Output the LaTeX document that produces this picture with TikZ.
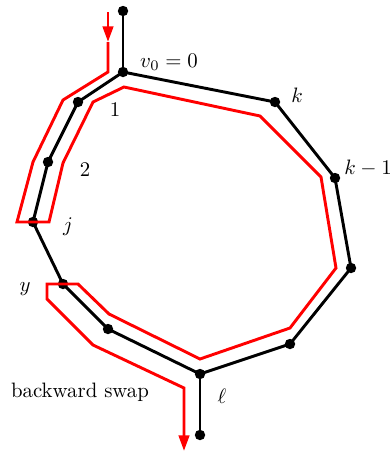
\documentclass[tikz,border=0pt]{standalone}
\usetikzlibrary{arrows.meta}
\begin{document}
\begin{tikzpicture}[x=0.48pt,y=-0.48pt,
  blk/.style={line width=1.4pt,black,line join=miter},
  redp/.style={line width=1.4pt,red,line join=miter},
  vdot/.style={circle,fill=black,inner sep=0pt,minimum size=5pt},
  lbl/.style={inner sep=0pt},
  tipstyle/.style={-{Triangle[length=7.5pt,width=5pt]}}]
\useasboundingbox (0,0) rectangle (390,451);
% vertices
\node[vdot] (top) at (123,11) {};
\node[vdot] (v0) at (123,72) {};
\node[vdot] (v1) at (78,102) {};
\node[vdot] (v2) at (48,162) {};
\node[vdot] (vj) at (33,222) {};
\node[vdot] (vy) at (63,284) {};
\node[vdot] (va) at (108,329) {};
\node[vdot] (vl) at (200,374) {};
\node[vdot] (vb) at (290,344) {};
\node[vdot] (vc) at (351,268) {};
\node[vdot] (vk1) at (335,178) {};
\node[vdot] (vk) at (275,102) {};
\node[vdot] (bot) at (200,435) {};
% black cycle
\draw[blk] (top.center) -- (v0.center);
\draw[blk] (vl.center) -- (bot.center);
\draw[blk] (v0.center) -- (v1.center) -- (v2.center) -- (vj.center) -- (vy.center) -- (va.center) -- (vl.center) -- (vb.center) -- (vc.center) -- (vk1.center) -- (vk.center) -- cycle;
% red route
\coordinate (r0) at (108,12);
\coordinate (rm) at (108,42);
\coordinate (r1) at (108,72);
\coordinate (r2) at (63,100);
\coordinate (r3) at (33,162);
\coordinate (r4) at (17,222);
\coordinate (r5) at (49,222);
\coordinate (r6) at (63,163);
\coordinate (r7) at (93,102);
\coordinate (r8) at (124,87);
\coordinate (r9) at (260,116);
\coordinate (r10) at (321,177);
\coordinate (r11) at (336,268);
\coordinate (r12) at (290,328);
\coordinate (r13) at (200,359);
\coordinate (r14) at (109,314);
\coordinate (r15) at (78,284);
\coordinate (r16) at (47,284);
\coordinate (r17) at (47,299);
\coordinate (r18) at (93,345);
\coordinate (r19) at (184,388);
\coordinate (r20) at (184,451);
\draw[redp,tipstyle] (r0) -- (rm);
\draw[redp,tipstyle] (rm) -- (r1) -- (r2) -- (r3) -- (r4) -- (r5) -- (r6) -- (r7) -- (r8) -- (r9) -- (r10) -- (r11) -- (r12) -- (r13) -- (r14) -- (r15) -- (r16) -- (r17) -- (r18) -- (r19) -- (r20);
% labels
\node[lbl] (t0) at (169,62) {$v_0=0$};
\node[lbl] (tk) at (297,95) {$k$};
\node[lbl] (tk1) at (368,168) {$k-1$};
\node[lbl] (t1) at (115,110) {$1$};
\node[lbl] (t2) at (85,170) {$2$};
\node[lbl] (tj) at (68,227) {$j$};
\node[lbl] (ty) at (25,289) {$y$};
\node[lbl] (tl) at (222,396) {$\ell$};
\node[lbl] (tb) at (80,392) {backward swap};
\end{tikzpicture}
\end{document}
